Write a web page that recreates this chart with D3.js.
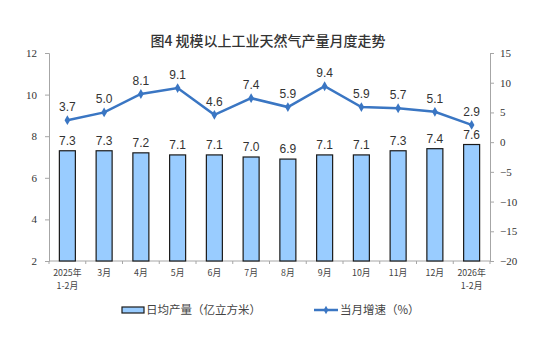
<!DOCTYPE html>
<html><head><meta charset="utf-8">
<script src="https://cdn.jsdelivr.net/npm/d3@7"></script>
<style>body{margin:0;background:#fff}svg{display:block}</style>
</head><body>
<script>
const categories = ["2025年\n1-2月","3月","4月","5月","6月","7月","8月","9月","10月","11月","12月","2026年\n1-2月"];
const dailyOutput = [7.3,7.3,7.2,7.1,7.1,7.0,6.9,7.1,7.1,7.3,7.4,7.6];
const growthRate = [3.7,5.0,8.1,9.1,4.6,7.4,5.9,9.4,5.9,5.7,5.1,2.9];
const leftTicks = [2,4,6,8,10,12];
const rightTicks = [15,10,5,0,-5,-10,-15,-20];

const W = 550, H = 337;
const m = {left:49, right:490, top:53, bottom:261};
const svg = d3.select("body").append("svg").attr("width",W).attr("height",H);

const x = d3.scaleBand().domain(categories).range([m.left,m.right]);
const yL = d3.scaleLinear().domain([2,12]).range([m.bottom,m.top]);
const yR = d3.scaleLinear().domain([-20,15]).range([m.bottom,m.top]);
const cx = c => x(c) + x.bandwidth()/2;

const numFont = "'Liberation Serif', 'DejaVu Serif', serif";
const cjkFont = "'Noto Sans CJK SC', sans-serif";
const axisColor = "#a6a6a6";

// title
svg.append("text").attr("x",268).attr("y",46).attr("text-anchor","middle")
  .attr("font-family",cjkFont).attr("font-size",14).attr("font-weight",500).attr("fill","#333")
  .text("图4  规模以上工业天然气产量月度走势");

// left axis
const gL = svg.append("g").attr("transform",`translate(${m.left},0)`)
  .call(d3.axisLeft(yL).tickValues(leftTicks).tickSize(4).tickPadding(8))
  .attr("font-family",numFont).attr("font-size",11);
gL.select(".domain").attr("stroke",axisColor);
gL.selectAll(".tick line").attr("stroke",axisColor);
gL.selectAll("text").attr("fill","#333");

// right axis
const gR = svg.append("g").attr("transform",`translate(${m.right},0)`)
  .call(d3.axisRight(yR).tickValues(rightTicks).tickSize(4).tickPadding(6))
  .attr("font-family",numFont).attr("font-size",11);
gR.select(".domain").attr("stroke",axisColor);
gR.selectAll(".tick line").attr("stroke",axisColor);
gR.selectAll("text").attr("fill","#333");

// bottom axis with ticks at category boundaries
const gB = svg.append("g").attr("transform",`translate(0,${m.bottom})`);
gB.append("line").attr("x1",m.left).attr("x2",m.right).attr("stroke",axisColor);
const bounds = categories.map(c=>x(c)).concat([m.right]);
gB.selectAll("line.tk").data(bounds).join("line").attr("class","tk")
  .attr("x1",d=>d).attr("x2",d=>d).attr("y1",0).attr("y2",3).attr("stroke",axisColor);
const labelRows = categories.flatMap(c => c.split("\n").map((t,i)=>({c,t,i})));
gB.selectAll("text.cat").data(labelRows).join("text").attr("class","cat")
  .attr("x",d=>cx(d.c)).attr("y",d=>15+d.i*13).attr("text-anchor","middle")
  .attr("font-family",cjkFont).attr("font-size",8.8).attr("fill","#444").text(d=>d.t);

// bars
const bw = 16;
svg.append("g").selectAll("rect").data(dailyOutput).join("rect")
  .attr("x",(d,i)=>cx(categories[i])-bw/2)
  .attr("y",d=>yL(d)).attr("width",bw).attr("height",d=>yL(2)-yL(d))
  .attr("fill","#99ccff").attr("stroke","#1a1a1a").attr("stroke-width",1.2);
svg.append("g").selectAll("text").data(dailyOutput).join("text")
  .attr("x",(d,i)=>cx(categories[i])).attr("y",d=>yL(d)-6)
  .attr("text-anchor","middle").attr("font-family","'Liberation Sans', Arial, sans-serif")
  .attr("font-size",12).attr("fill","#333").text(d=>d.toFixed(1));

// growth line
const lineColor = "#3a76c3";
const line = d3.line().x((d,i)=>cx(categories[i])).y(d=>yR(d));
svg.append("path").datum(growthRate).attr("d",line).attr("fill","none")
  .attr("stroke",lineColor).attr("stroke-width",2.5);
svg.append("g").selectAll("path").data(growthRate).join("path")
  .attr("transform",(d,i)=>`translate(${cx(categories[i])},${yR(d)})`)
  .attr("d",d3.symbol(d3.symbolDiamond,28)).attr("fill",lineColor);
svg.append("g").selectAll("text").data(growthRate).join("text")
  .attr("x",(d,i)=>cx(categories[i])).attr("y",d=>yR(d)-9)
  .attr("text-anchor","middle").attr("font-family","'Liberation Sans', Arial, sans-serif")
  .attr("font-size",12).attr("fill","#333").text(d=>d.toFixed(1));

// legend
const lg = svg.append("g");
lg.append("rect").attr("x",122).attr("y",307).attr("width",22).attr("height",6)
  .attr("fill","#99ccff").attr("stroke","#1a1a1a").attr("stroke-width",1.2);
lg.append("text").attr("x",146).attr("y",314).attr("font-family",cjkFont).attr("font-size",11.5)
  .attr("fill","#444").text("日均产量（亿立方米）");
lg.append("line").attr("x1",314).attr("x2",338).attr("y1",310).attr("y2",310)
  .attr("stroke",lineColor).attr("stroke-width",2.5);
lg.append("path").attr("transform","translate(326,310)").attr("d",d3.symbol(d3.symbolDiamond,20)).attr("fill",lineColor);
lg.append("text").attr("x",340).attr("y",314).attr("font-family",cjkFont).attr("font-size",11.5)
  .attr("fill","#444").text("当月增速（%）");
</script>
</body></html>
